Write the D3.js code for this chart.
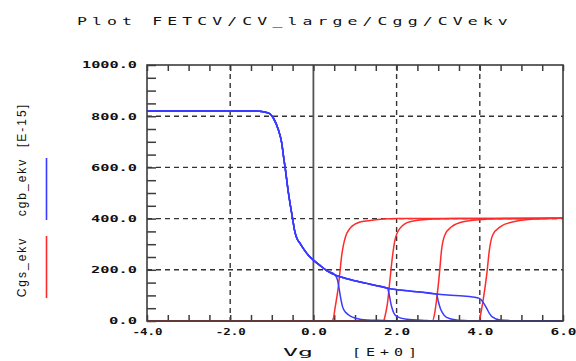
<!DOCTYPE html>
<html><head><meta charset="utf-8">
<script src="https://cdn.jsdelivr.net/npm/d3@7"></script>
<style>
html,body{margin:0;padding:0;background:#fff;}
svg{display:block;}
.mono{font-family:"DejaVu Sans Mono",monospace;}
</style></head>
<body>
<svg id="chart" width="576" height="361"></svg>
<script>
// ---------- data ----------
const titleText = "Plot FETCV/CV_large/Cgg/CVekv";
const xTicks = [-4, -2, 0, 2, 4, 6];
const yTicks = [0, 200, 400, 600, 800, 1000];
const xLabel = "Vg";
const xUnit = "[E+0]";
const yUnit = "[E-15]";
const seriesNames = ["cgb_ekv", "Cgs_ekv"];

// Cgb (blue): shared trunk, then each curve leaves it at its own drop-off
const cgbShared = [[-4,820],[-1.4,820],[-1.2,817],[-1.05,810],[-0.96,792],[-0.84,746],[-0.76,694],
  [-0.72,645],[-0.68,600],[-0.6,500],[-0.5,400],[-0.45,352],[-0.4,324],[-0.32,303],[-0.22,278],[-0.1,253],
  [0.0,238],[0.15,218],[0.32,197],[0.52,180],[0.64,173],[1.0,157],[1.28,147],[1.5,139],[1.78,128],
  [2.08,121],[2.56,113],[2.96,105],[3.3,101],[3.6,98],[3.93,91]];
const cgbTail1 = [[0.52,180],[0.58,160],[0.62,125],[0.65,95],[0.70,56],[0.78,33],[0.88,20],[1.04,10],[1.28,4],[1.7,2],[2.0,0],[6,0]];
const cgbTail2 = [[1.78,128],[1.82,105],[1.86,70],[1.9,45],[2.0,18],[2.24,7],[2.72,2],[3.0,0],[6,0]];
const cgbTail3 = [[2.96,105],[3.0,78],[3.05,50],[3.1,33],[3.2,14],[3.44,4],[3.8,1],[4.0,0],[6,0]];
const cgbTail4 = [[3.93,91],[4.02,85],[4.1,68],[4.17,48],[4.23,30],[4.3,16],[4.49,4],[4.8,1],[5.0,0],[6,0]];

// Cgs (red)
const cgs1 = [[-4,0],[0.44,0],[0.48,10],[0.52,50],[0.56,90],[0.60,134],[0.64,195],[0.68,255],[0.72,295],[0.78,333],[0.88,362],[1.0,378],[1.12,387],[1.32,392],[1.68,398],[2.0,400],[6,401]];
const cgs2 = [[-4,0],[1.68,0],[1.73,25],[1.78,69],[1.84,160],[1.90,251],[1.96,316],[2.08,362],[2.32,388],[2.88,398],[3.4,400],[6,401]];
const cgs3 = [[-4,0],[2.86,0],[2.92,35],[2.96,82],[3.03,186],[3.08,277],[3.16,336],[3.32,368],[3.6,388],[4.17,398],[4.6,400],[6,401]];
const cgs4 = [[-4,0],[3.98,0],[4.03,35],[4.08,82],[4.17,186],[4.23,277],[4.31,336],[4.49,368],[4.81,388],[5.29,398],[5.6,400],[6,401]];

// ---------- build ----------
const blue = "#3a3aff", red = "#ff2a2a", axisCol = "#3c3c3c", gridCol = "#333";
const svg = d3.select("#chart");
const L = 147, R = 563, T = 65, B = 321;
const x = d3.scaleLinear().domain([-4, 6]).range([L, R]);
const y = d3.scaleLinear().domain([0, 1000]).range([B, T]);

const cgbCurves = [cgbTail1, cgbTail2, cgbTail3, cgbTail4].map(t =>
  cgbShared.filter(p => p[0] < t[0][0]).concat(t));
const cgsCurves = [cgs1, cgs2, cgs3, cgs4];

// title
svg.append("text").attr("class","mono").attr("transform","translate(77,25) scale(1.5,1)")
  .attr("font-size",11).attr("letter-spacing",3.4)
  .attr("fill","#111").text(titleText);

// grid
const g = svg.append("g");
yTicks.filter(v => v > 0 && v < 1000).forEach(v => {
  g.append("line").attr("x1",L).attr("x2",R).attr("y1",y(v)).attr("y2",y(v))
    .attr("stroke",gridCol).attr("stroke-width",1.4).attr("stroke-dasharray","5,4");
});
xTicks.filter(v => v > -4 && v < 6).forEach(v => {
  const ln = g.append("line").attr("x1",x(v)).attr("x2",x(v)).attr("y1",T).attr("y2",B)
    .attr("stroke",v === 0 ? "#555" : gridCol).attr("stroke-width",v === 0 ? 1.8 : 1.4);
  if (v !== 0) ln.attr("stroke-dasharray","5,4");
});

// minor ticks via axes
const minorX = d3.range(-4, 6.001, 0.5);
const minorY = d3.range(0, 1000.1, 50);
const axTop = svg.append("g").attr("transform",`translate(0,${T})`)
  .call(d3.axisBottom(x).tickValues(minorX).tickSize(6).tickFormat(""));
const axBot = svg.append("g").attr("transform",`translate(0,${B})`)
  .call(d3.axisTop(x).tickValues(minorX).tickSize(6).tickFormat(""));
const axLeft = svg.append("g").attr("transform",`translate(${L},0)`)
  .call(d3.axisRight(y).tickValues(minorY).tickSize(9).tickFormat(""));
[axTop, axBot, axLeft].forEach(a => {
  a.select(".domain").remove();
  a.selectAll(".tick line").attr("stroke",axisCol).attr("stroke-width",1.5);
});

// tick labels
const fmt = d => d3.format(".1f")(d).replace("−","-");
const xLab = svg.append("g").attr("transform",`translate(0,${B + 14})`)
  .call(d3.axisBottom(x).tickValues(xTicks).tickSize(0).tickFormat(fmt));
xLab.select(".domain").remove();
xLab.selectAll("text").attr("class","mono").attr("font-size",8).attr("font-weight","bold")
  .attr("fill","#111").attr("dy","0").attr("y",0)
  .attr("textLength",d => fmt(d).length === 3 ? 26 : 30).attr("lengthAdjust","spacingAndGlyphs");
const yLab = svg.append("g").attr("transform",`translate(${L - 10},0)`)
  .call(d3.axisLeft(y).tickValues(yTicks).tickSize(0).tickFormat(fmt));
yLab.select(".domain").remove();
yLab.selectAll("text").attr("class","mono").attr("font-size",8).attr("font-weight","bold")
  .attr("fill","#111").attr("x",0).attr("dy","0.35em")
  .attr("textLength",d => fmt(d).length * 9 + 1).attr("lengthAdjust","spacingAndGlyphs");

// axis titles
svg.append("text").attr("class","mono").attr("x",283).attr("y",356).attr("font-size",10.5)
  .attr("textLength",30).attr("lengthAdjust","spacingAndGlyphs").attr("fill","#111").text(xLabel);
svg.append("text").attr("class","mono").attr("transform","translate(352,356) scale(1.5,1)")
  .attr("font-size",10).attr("letter-spacing",3.3).attr("fill","#111").text(xUnit);

const yt = svg.append("g").attr("font-family","Liberation Sans, Arial, sans-serif").attr("font-size",12)
  .attr("letter-spacing",2).attr("fill","#111");
yt.append("text").attr("transform","translate(26,125) rotate(-90)").attr("text-anchor","middle").text(yUnit);
yt.append("text").attr("transform","translate(26,187) rotate(-90)").attr("text-anchor","middle").text(seriesNames[0]);
yt.append("text").attr("transform","translate(26,267) rotate(-90)").attr("text-anchor","middle").text(seriesNames[1]);
svg.append("line").attr("x1",46.5).attr("x2",46.5).attr("y1",158).attr("y2",220).attr("stroke",blue).attr("stroke-width",1.6);
svg.append("line").attr("x1",46.5).attr("x2",46.5).attr("y1",236).attr("y2",298).attr("stroke",red).attr("stroke-width",1.6);

// data lines
const line = d3.line().x(d => x(d[0])).y(d => y(d[1])).curve(d3.curveMonotoneX);
svg.append("g").selectAll("path").data(cgsCurves).join("path")
  .attr("d",line).attr("fill","none").attr("stroke",red).attr("stroke-width",1.5);
svg.append("g").selectAll("path").data(cgbCurves).join("path")
  .attr("d",line).attr("fill","none").attr("stroke",blue).attr("stroke-width",1.5);

// frame
svg.append("rect").attr("x",L).attr("y",T).attr("width",R-L).attr("height",B-T)
  .attr("fill","none").attr("stroke",axisCol).attr("stroke-width",1.6);
</script>
</body></html>
